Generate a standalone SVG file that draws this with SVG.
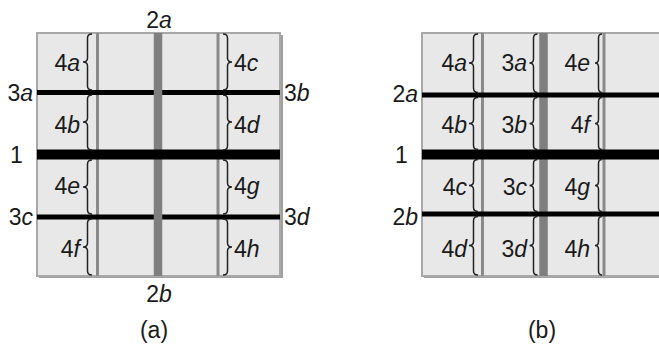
<svg xmlns="http://www.w3.org/2000/svg" width="659" height="346" viewBox="0 0 659 346">
<style>
.t{font-family:"Liberation Sans",Arial,sans-serif;font-size:23px;fill:#1a1a1a}
.i{font-style:italic}
.cell{fill:#e8e8e8;stroke:#a8a8a8;stroke-width:2}
.sh{fill:#a0a0a0}
.thin{stroke:#8a8a8a;stroke-width:3}
.thick{stroke:#7f7f7f;stroke-width:8.5}
.bl{stroke:#000;stroke-width:5}
.bl1{stroke:#000;stroke-width:10}
.br{fill:none;stroke:#222;stroke-width:1.5}
</style>
<rect width="659" height="346" fill="#fff"/>
<g id="panel-a">
<rect class="sh" x="39" y="35" width="244" height="243"/>
<rect class="cell" x="37" y="33" width="243" height="243"/>
<line class="thin" x1="97.5" y1="33" x2="97.5" y2="276"/>
<line class="thin" x1="218" y1="33" x2="218" y2="276"/>
<line class="bl" x1="37" y1="92.5" x2="280" y2="92.5"/>
<line class="bl" x1="37" y1="217" x2="280" y2="217"/>
<line class="thick" x1="158" y1="33" x2="158" y2="276"/>
<line class="bl1" x1="37" y1="154.5" x2="280" y2="154.5"/>
<path class="br" d="M92,34 Q87.5,34 87.5,38 L87.5,58 Q87.5,62 83,62 Q87.5,62 87.5,66 L87.5,86 Q87.5,90 92,90"/>
<path class="br" d="M92,95 Q87.5,95 87.5,99 L87.5,118 Q87.5,122 83,122 Q87.5,122 87.5,126 L87.5,146 Q87.5,150 92,150"/>
<path class="br" d="M92,160 Q87.5,160 87.5,164 L87.5,183 Q87.5,187 83,187 Q87.5,187 87.5,191 L87.5,210 Q87.5,214 92,214"/>
<path class="br" d="M92,219 Q87.5,219 87.5,223 L87.5,243 Q87.5,247 83,247 Q87.5,247 87.5,251 L87.5,271 Q87.5,275 92,275"/>
<path class="br" d="M223,34 Q227.5,34 227.5,38 L227.5,58 Q227.5,62 232,62 Q227.5,62 227.5,66 L227.5,86 Q227.5,90 223,90"/>
<path class="br" d="M223,95 Q227.5,95 227.5,99 L227.5,118 Q227.5,122 232,122 Q227.5,122 227.5,126 L227.5,146 Q227.5,150 223,150"/>
<path class="br" d="M223,160 Q227.5,160 227.5,164 L227.5,183 Q227.5,187 232,187 Q227.5,187 227.5,191 L227.5,210 Q227.5,214 223,214"/>
<path class="br" d="M223,219 Q227.5,219 227.5,223 L227.5,243 Q227.5,247 232,247 Q227.5,247 227.5,251 L227.5,271 Q227.5,275 223,275"/>
<text class="t" x="159" y="28" text-anchor="middle">2<tspan class="i">a</tspan></text>
<text class="t" x="159" y="302" text-anchor="middle">2<tspan class="i">b</tspan></text>
<text class="t" x="33" y="101" text-anchor="end">3<tspan class="i">a</tspan></text>
<text class="t" x="33" y="225" text-anchor="end">3<tspan class="i">c</tspan></text>
<text class="t" x="284" y="101">3<tspan class="i">b</tspan></text>
<text class="t" x="284" y="225">3<tspan class="i">d</tspan></text>
<text class="t" x="10" y="163">1</text>
<text class="t" x="80" y="71" text-anchor="end">4<tspan class="i">a</tspan></text>
<text class="t" x="80" y="133" text-anchor="end">4<tspan class="i">b</tspan></text>
<text class="t" x="80" y="194" text-anchor="end">4<tspan class="i">e</tspan></text>
<text class="t" x="80" y="257" text-anchor="end">4<tspan class="i">f</tspan></text>
<text class="t" x="234" y="71">4<tspan class="i">c</tspan></text>
<text class="t" x="234" y="133">4<tspan class="i">d</tspan></text>
<text class="t" x="234" y="194">4<tspan class="i">g</tspan></text>
<text class="t" x="234" y="257">4<tspan class="i">h</tspan></text>
<text class="t" x="154" y="338" text-anchor="middle">(a)</text>
</g>
<g id="panel-b">
<rect class="sh" x="424" y="35" width="250" height="243"/>
<rect class="cell" x="422" y="33" width="250" height="243"/>
<line class="thin" x1="482.5" y1="33" x2="482.5" y2="276"/>
<line class="thin" x1="604" y1="33" x2="604" y2="276"/>
<line class="thick" x1="543.5" y1="33" x2="543.5" y2="276"/>
<line class="bl" x1="422" y1="95" x2="659" y2="95"/>
<line class="bl" x1="422" y1="214" x2="659" y2="214"/>
<line class="bl1" x1="422" y1="154.5" x2="659" y2="154.5"/>
<path class="br" d="M478,34 Q473.5,34 473.5,38 L473.5,59 Q473.5,63 469,63 Q473.5,63 473.5,67 L473.5,88 Q473.5,92.5 478,92.5"/>
<path class="br" d="M478,97.5 Q473.5,97.5 473.5,101.5 L473.5,119.5 Q473.5,123.5 469,123.5 Q473.5,123.5 473.5,127.5 L473.5,145.5 Q473.5,149.5 478,149.5"/>
<path class="br" d="M478,159.5 Q473.5,159.5 473.5,163.5 L473.5,181.5 Q473.5,185.5 469,185.5 Q473.5,185.5 473.5,189.5 L473.5,207.5 Q473.5,211.5 478,211.5"/>
<path class="br" d="M478,216.5 Q473.5,216.5 473.5,220.5 L473.5,241.5 Q473.5,245.5 469,245.5 Q473.5,245.5 473.5,249.5 L473.5,271 Q473.5,275 478,275"/>
<path class="br" d="M537.5,34 Q533.5,34 533.5,38 L533.5,59 Q533.5,63 529.5,63 Q533.5,63 533.5,67 L533.5,88 Q533.5,92.5 537.5,92.5"/>
<path class="br" d="M537.5,97.5 Q533.5,97.5 533.5,101.5 L533.5,119.5 Q533.5,123.5 529.5,123.5 Q533.5,123.5 533.5,127.5 L533.5,145.5 Q533.5,149.5 537.5,149.5"/>
<path class="br" d="M537.5,159.5 Q533.5,159.5 533.5,163.5 L533.5,181.5 Q533.5,185.5 529.5,185.5 Q533.5,185.5 533.5,189.5 L533.5,207.5 Q533.5,211.5 537.5,211.5"/>
<path class="br" d="M537.5,216.5 Q533.5,216.5 533.5,220.5 L533.5,241.5 Q533.5,245.5 529.5,245.5 Q533.5,245.5 533.5,249.5 L533.5,271 Q533.5,275 537.5,275"/>
<path class="br" d="M602,34 Q598.5,34 598.5,38 L598.5,59 Q598.5,63 595,63 Q598.5,63 598.5,67 L598.5,88 Q598.5,92.5 602,92.5"/>
<path class="br" d="M602,97.5 Q598.5,97.5 598.5,101.5 L598.5,119.5 Q598.5,123.5 595,123.5 Q598.5,123.5 598.5,127.5 L598.5,145.5 Q598.5,149.5 602,149.5"/>
<path class="br" d="M602,159.5 Q598.5,159.5 598.5,163.5 L598.5,181.5 Q598.5,185.5 595,185.5 Q598.5,185.5 598.5,189.5 L598.5,207.5 Q598.5,211.5 602,211.5"/>
<path class="br" d="M602,216.5 Q598.5,216.5 598.5,220.5 L598.5,241.5 Q598.5,245.5 595,245.5 Q598.5,245.5 598.5,249.5 L598.5,271 Q598.5,275 602,275"/>
<text class="t" x="418" y="102" text-anchor="end">2<tspan class="i">a</tspan></text>
<text class="t" x="418" y="225" text-anchor="end">2<tspan class="i">b</tspan></text>
<text class="t" x="395" y="163">1</text>
<text class="t" x="467" y="71" text-anchor="end">4<tspan class="i">a</tspan></text>
<text class="t" x="467" y="133" text-anchor="end">4<tspan class="i">b</tspan></text>
<text class="t" x="467" y="195" text-anchor="end">4<tspan class="i">c</tspan></text>
<text class="t" x="467" y="257" text-anchor="end">4<tspan class="i">d</tspan></text>
<text class="t" x="527" y="71" text-anchor="end">3<tspan class="i">a</tspan></text>
<text class="t" x="527" y="133" text-anchor="end">3<tspan class="i">b</tspan></text>
<text class="t" x="527" y="195" text-anchor="end">3<tspan class="i">c</tspan></text>
<text class="t" x="527" y="257" text-anchor="end">3<tspan class="i">d</tspan></text>
<text class="t" x="590" y="71" text-anchor="end">4<tspan class="i">e</tspan></text>
<text class="t" x="590" y="133" text-anchor="end">4<tspan class="i">f</tspan></text>
<text class="t" x="590" y="195" text-anchor="end">4<tspan class="i">g</tspan></text>
<text class="t" x="590" y="257" text-anchor="end">4<tspan class="i">h</tspan></text>
<text class="t" x="542" y="338" text-anchor="middle">(b)</text>
</g>
</svg>
